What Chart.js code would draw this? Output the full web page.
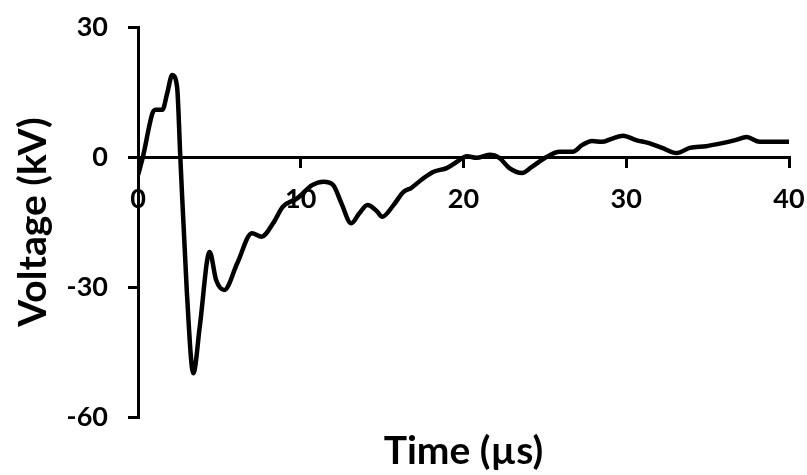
<!DOCTYPE html>
<html>
<head>
<meta charset="utf-8">
<script src="https://cdn.jsdelivr.net/npm/chart.js@4/dist/chart.umd.min.js"></script>
<style>
  html, body { margin: 0; padding: 0; background: #fff; }
  #wrap { width: 807px; height: 475px; }
</style>
</head>
<body>
<div id="wrap"><canvas id="voltageChart"></canvas></div>
<script>
// --- data ---
const timeUs = [0, 0.3, 0.9, 1.1, 1.5, 1.8, 2.1, 2.4, 2.6, 3.0, 3.4, 3.8, 4.4, 4.8, 5.3, 6.1, 7.0, 7.6, 8.3, 8.9,
    9.8, 10.7, 11.4, 12.0, 12.5, 13.1, 13.6, 14.1, 14.7, 15.0, 15.7, 16.3, 16.8, 17.4, 18.1, 19.0, 19.6, 20.2, 20.8,
    21.6, 22.2, 22.8, 23.6, 24.2, 25.1, 25.9, 26.7, 27.3, 27.9, 28.5, 29.1, 29.8, 30.6, 31.4, 32.2, 33.1, 33.9, 34.9,
    35.9, 36.7, 37.4, 38.2, 39.0, 40.0];
const voltageKv = [-4.2, 0, 10.2, 10.9, 10.9, 14.8, 18.9, 16.2, 0, -31, -49.9, -39, -21.9, -28.4, -30.7, -24.5, -17.6,
    -18.4, -15.3, -11.5, -9.5, -6.5, -5.7, -6.5, -10.7, -15.3, -13, -11.1, -12.6, -13.8, -11.1, -8.1, -7.1, -5.3, -3.5,
    -2.5, -1.1, 0.2, -0.2, 0.5, -0.2, -2.5, -3.7, -2.3, 0, 1.2, 1.2, 2.8, 3.7, 3.5, 4.2, 4.9, 3.9, 3.2, 2.1, 0.9, 2.1,
    2.5, 3.2, 3.9, 4.6, 3.5, 3.5, 3.5];
const xTicks = [0, 10, 20, 30, 40];
const yTicks = [-60, -30, 0, 30];

document.addEventListener('DOMContentLoaded', () => {
    const FONT = 'Lato, "Open Sans", sans-serif';
    const points = timeUs.map((t, i) => ({ x: t, y: voltageKv[i] }));

    // keep Chart.js from reserving extra room for the tick labels
    const noPadding = (s) => {
        s.paddingTop = 0; s.paddingBottom = 0; s.paddingLeft = 0; s.paddingRight = 0;
    };

    new Chart(document.getElementById('voltageChart'), {
        type: 'line',
        data: {
            datasets: [{
                data: points,
                xAxisID: 'x',
                yAxisID: 'y',
                borderColor: '#000',
                borderWidth: 4.5,
                pointRadius: 0,
                fill: false,
                cubicInterpolationMode: 'monotone'
            }]
        },
        options: {
            responsive: true,
            maintainAspectRatio: false,
            animation: false,
            layout: { padding: { top: 27, right: 18, left: 0, bottom: 0 } },
            plugins: { legend: { display: false }, tooltip: { enabled: false } },
            scales: {
                // time axis sits on the zero line
                x: {
                    type: 'linear',
                    position: { y: 0 },
                    min: xTicks[0],
                    max: xTicks[xTicks.length - 1],
                    afterBuildTicks: (s) => { s.ticks = xTicks.map(v => ({ value: v })); },
                    afterFit: (s) => { s.height = 0; noPadding(s); },
                    border: { display: true, color: '#000', width: 3 },
                    grid: { drawOnChartArea: false, drawTicks: true, tickLength: 9, color: '#000', lineWidth: 3 },
                    ticks: { color: '#000', padding: 17, maxRotation: 0, font: { family: FONT, size: 27, weight: 'bold' } }
                },
                // only carries the axis title at the bottom
                x2: {
                    type: 'linear',
                    position: 'bottom',
                    afterFit: (s) => { s.height = 58; noPadding(s); },
                    border: { display: false },
                    grid: { display: false },
                    ticks: { display: false },
                    title: { display: true, text: 'Time (µs)', color: '#000', padding: 0,
                        font: { family: FONT, size: 39, weight: 'bold' } }
                },
                y: {
                    type: 'linear',
                    position: 'left',
                    min: yTicks[0],
                    max: yTicks[yTicks.length - 1],
                    afterBuildTicks: (s) => { s.ticks = yTicks.map(v => ({ value: v })); },
                    afterFit: (s) => { s.width = 138; noPadding(s); },
                    border: { display: true, color: '#000', width: 3 },
                    grid: { drawOnChartArea: false, drawTicks: true, tickLength: 10, color: '#000', lineWidth: 3 },
                    ticks: { color: '#000', padding: 20, font: { family: FONT, size: 27, weight: 'bold' } },
                    title: { display: true, text: 'Voltage (kV)', color: '#000', padding: { top: 10, bottom: 0 },
                        font: { family: FONT, size: 39, weight: 'bold' } }
                }
            }
        }
    });
});
</script>
</body>
</html>
